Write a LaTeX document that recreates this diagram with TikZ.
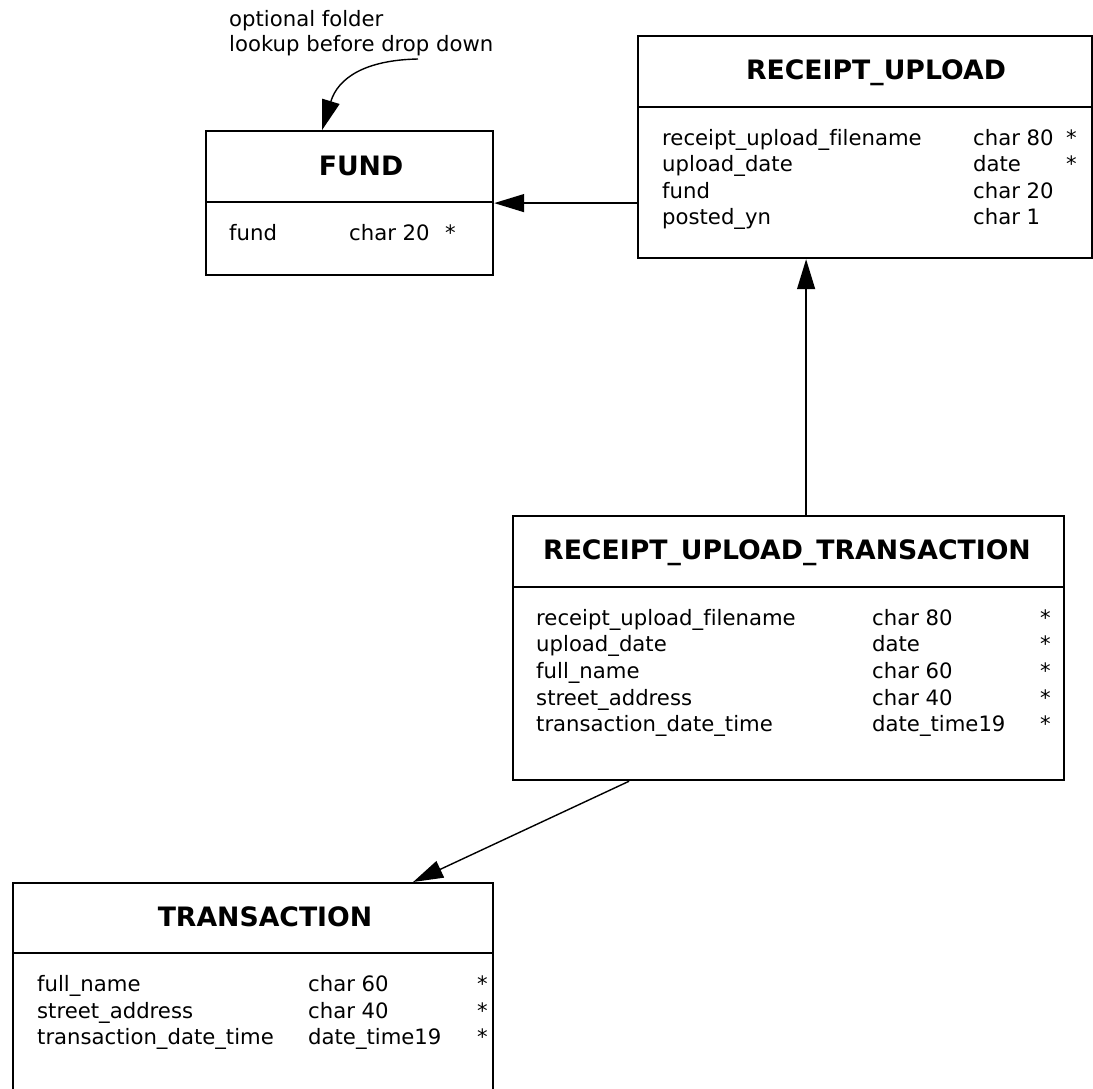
\documentclass[tikz,border=0pt]{standalone}
\usepackage{fontspec}
\setmainfont[Ligatures={NoCommon}]{DejaVu Sans}
\usetikzlibrary{arrows.meta,calc}
\begin{document}
\begin{tikzpicture}[x=1pt,y=-1pt,
  tbl/.style={draw, line width=2.2pt, rectangle, anchor=north west, inner sep=0pt},
  ttl/.style={anchor=base, font=\fontsize{26.7}{31}\selectfont\bfseries, inner sep=0pt},
  fld/.style={anchor=base west, font=\fontsize{21.2}{25}\selectfont, inner sep=0pt},
  conn/.style={line width=1.4pt, -{Triangle[length=30pt,width=18pt]}},
  sepline/.style={line width=2.2pt}]
\useasboundingbox (0,0) rectangle (1093,1088);

% annotation
\node[fld] (note1) at (229,26.7) {optional folder};
\node[fld] (note2) at (229,51.7) {lookup before drop down};

% FUND
\node[tbl, minimum width=287pt, minimum height=144pt] (fund) at (205,130) {};
\draw[sepline] ($(fund.north west)+(0,72)$) -- ($(fund.north east)+(0,72)$);
\node[ttl] (fundT) at (361,175) {FUND};
\node[fld] (fundA) at (229,240.7) {fund};
\node[fld] (fundB) at (349,240.7) {char 20};
\node[fld] (fundC) at (445,240.7) {*};

% RECEIPT_UPLOAD
\node[tbl, minimum width=454pt, minimum height=222pt] (ru) at (637,35) {};
\draw[sepline] ($(ru.north west)+(0,72)$) -- ($(ru.north east)+(0,72)$);
\node[ttl] (ruT) at (876,79.3) {RECEIPT\_UPLOAD};
\node[fld] (ru1a) at (662,145) {receipt\_upload\_filename};
\node[fld] (ru1b) at (973,145) {char 80};
\node[fld] (ru1c) at (1066,145) {*};
\node[fld] (ru2a) at (662,171.5) {upload\_date};
\node[fld] (ru2b) at (973,171.5) {date};
\node[fld] (ru2c) at (1066,171.5) {*};
\node[fld] (ru3a) at (662,198) {fund};
\node[fld] (ru3b) at (973,198) {char 20};
\node[fld] (ru4a) at (662,224) {posted\_yn};
\node[fld] (ru4b) at (973,224) {char 1};

% RECEIPT_UPLOAD_TRANSACTION
\node[tbl, minimum width=551pt, minimum height=264pt] (rut) at (512,515) {};
\draw[sepline] ($(rut.north west)+(0,72)$) -- ($(rut.north east)+(0,72)$);
\node[ttl] (rutT) at (787,559) {RECEIPT\_UPLOAD\_TRANSACTION};
\node[fld] (rut1a) at (536,625) {receipt\_upload\_filename};
\node[fld] (rut1b) at (872,625) {char 80};
\node[fld] (rut1c) at (1040,625) {*};
\node[fld] (rut2a) at (536,651.7) {upload\_date};
\node[fld] (rut2b) at (872,651.7) {date};
\node[fld] (rut2c) at (1040,651.7) {*};
\node[fld] (rut3a) at (536,678.3) {full\_name};
\node[fld] (rut3b) at (872,678.3) {char 60};
\node[fld] (rut3c) at (1040,678.3) {*};
\node[fld] (rut4a) at (536,705) {street\_address};
\node[fld] (rut4b) at (872,705) {char 40};
\node[fld] (rut4c) at (1040,705) {*};
\node[fld] (rut5a) at (536,731.7) {transaction\_date\_time};
\node[fld] (rut5b) at (872,731.7) {date\_time19};
\node[fld] (rut5c) at (1040,731.7) {*};

% TRANSACTION
\node[tbl, minimum width=480pt, minimum height=240pt] (trans) at (12,882) {};
\draw[sepline] ($(trans.north west)+(0,71)$) -- ($(trans.north east)+(0,71)$);
\node[ttl] (transT) at (265,926) {TRANSACTION};
\node[fld] (tr1a) at (37,991.7) {full\_name};
\node[fld] (tr1b) at (308,991.7) {char 60};
\node[fld] (tr1c) at (477,991.7) {*};
\node[fld] (tr2a) at (37,1018) {street\_address};
\node[fld] (tr2b) at (308,1018) {char 40};
\node[fld] (tr2c) at (477,1018) {*};
\node[fld] (tr3a) at (37,1044.7) {transaction\_date\_time};
\node[fld] (tr3b) at (308,1044.7) {date\_time19};
\node[fld] (tr3c) at (477,1044.7) {*};

% connectors
\coordinate (noteend) at (418,59);
\draw[conn] (noteend) .. controls (365,60) and (338,78) .. ([xshift=-27.5pt]fund.north);
\draw[conn] (fund.east -| ru.west) -- (fund.east);
\draw[conn] ([xshift=17.5pt]rut.north) -- ([xshift=17.5pt]rut.north |- ru.south);
\draw[conn] ([xshift=-159.5pt]rut.south) -- ([xshift=160pt]trans.north);
\end{tikzpicture}
\end{document}
